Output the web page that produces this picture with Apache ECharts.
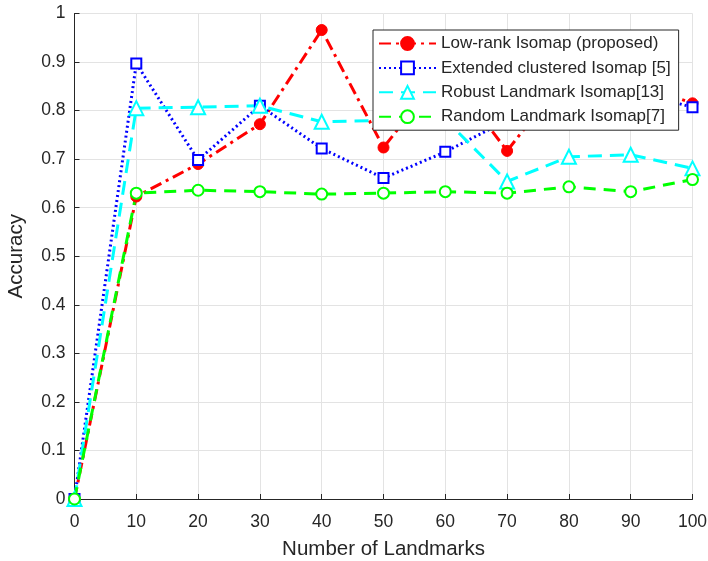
<!DOCTYPE html>
<html>
<head>
<meta charset="utf-8">
<script src="https://cdn.jsdelivr.net/npm/echarts@6/dist/echarts.min.js"></script>
<style>html,body{margin:0;padding:0;background:#fff;}#c{width:708px;height:561px;}</style>
</head>
<body>
<div id="c"></div>
<script>
const xValues = [0, 10, 20, 30, 40, 50, 60, 70, 80, 90, 100];
const lowRank = [0, 0.623, 0.69, 0.772, 0.966, 0.724, 0.885, 0.717, 0.88, 0.86, 0.815];
const extended = [0, 0.897, 0.698, 0.81, 0.722, 0.661, 0.715, 0.78, 0.82, 0.84, 0.807];
const robust = [0, 0.805, 0.807, 0.81, 0.777, 0.78, 0.782, 0.654, 0.705, 0.709, 0.681];
const random = [0, 0.63, 0.636, 0.633, 0.628, 0.63, 0.633, 0.63, 0.643, 0.633, 0.658];
const seriesNames = ['Low-rank Isomap (proposed)', 'Extended clustered Isomap [5]', 'Robust Landmark Isomap[13]', 'Random Landmark Isomap[7]'];

const pair = arr => xValues.map((x, i) => [x, arr[i]]);
const FONT = "'Liberation Sans', Arial, Helvetica, sans-serif";
const chart = echarts.init(document.getElementById('c'), null, {renderer: 'canvas'});
chart.setOption({
  animation: false,
  backgroundColor: '#fff',
  grid: {left: 74.5, right: 15.5, top: 13.5, bottom: 62, containLabel: false, outerBoundsMode: 'none'},
  xAxis: {
    type: 'value', min: 0, max: 100, interval: 10,
    name: 'Number of Landmarks', nameLocation: 'middle', nameGap: 40,
    nameTextStyle: {fontFamily: FONT, fontSize: 20.5, color: '#262626'},
    axisLine: {show: true, onZero: false, lineStyle: {color: '#262626', width: 1}},
    axisTick: {show: true, inside: true, length: 5, lineStyle: {color: '#262626'}},
    axisLabel: {fontFamily: FONT, fontSize: 17.5, color: '#262626', margin: 14},
    splitLine: {show: true, lineStyle: {color: '#e3e3e3', width: 1}}
  },
  yAxis: {
    type: 'value', min: 0, max: 1, interval: 0.1,
    name: 'Accuracy', nameLocation: 'middle', nameGap: 48,
    nameTextStyle: {fontFamily: FONT, fontSize: 20.5, color: '#262626'},
    axisLine: {show: true, onZero: false, lineStyle: {color: '#262626', width: 1}},
    axisTick: {show: true, inside: true, length: 5, lineStyle: {color: '#262626'}},
    axisLabel: {fontFamily: FONT, fontSize: 17.5, color: '#262626', margin: 9},
    splitLine: {show: true, lineStyle: {color: '#e3e3e3', width: 1}}
  },
  legend: {
    left: 373, top: 30, orient: 'vertical',
    backgroundColor: '#fff', borderColor: '#262626', borderWidth: 1,
    padding: [5, 8, 5, 5], itemGap: 7.4, itemWidth: 57, itemHeight: 16,
    textStyle: {fontFamily: FONT, fontSize: 17, color: '#262626', lineHeight: 16},
    data: seriesNames
  },
  series: [
    {
      name: seriesNames[0], type: 'line', data: pair(lowRank),
      symbol: 'circle', symbolSize: 11,
      itemStyle: {color: '#ff0000', borderColor: '#ff0000', borderWidth: 1},
      lineStyle: {color: '#ff0000', width: 3, type: [12, 5, 3, 5]}
    },
    {
      name: seriesNames[1], type: 'line', data: pair(extended),
      symbol: 'emptyRect', symbolSize: 10,
      itemStyle: {color: '#0000ff', borderColor: '#0000ff', borderWidth: 2},
      lineStyle: {color: '#0000ff', width: 3, type: [2, 3]}
    },
    {
      name: seriesNames[2], type: 'line', data: pair(robust),
      symbol: 'emptyTriangle', symbolSize: 14,
      itemStyle: {color: '#00ffff', borderColor: '#00ffff', borderWidth: 2.5},
      lineStyle: {color: '#00ffff', width: 3, type: [14, 8]}
    },
    {
      name: seriesNames[3], type: 'line', data: pair(random),
      symbol: 'emptyCircle', symbolSize: 11,
      itemStyle: {color: '#00ff00', borderColor: '#00ff00', borderWidth: 2.5},
      lineStyle: {color: '#00ff00', width: 3, type: [12, 8]}
    }
  ]
});
</script>
</body>
</html>
